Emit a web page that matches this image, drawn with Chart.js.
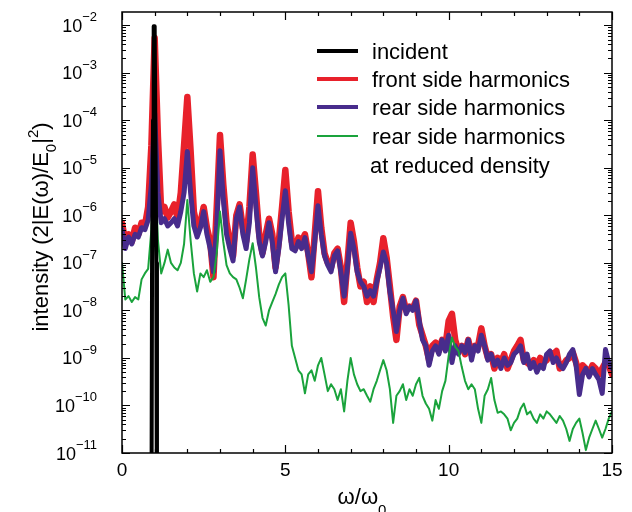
<!DOCTYPE html>
<html>
<head>
<meta charset="utf-8">
<script src="https://cdn.jsdelivr.net/npm/chart.js@4.4.1/dist/chart.umd.min.js"></script>
<style>
  html, body { margin: 0; padding: 0; background: #fff; }
  canvas { display: block; }
</style>
</head>
<body>
<canvas id="chart" width="632" height="512"></canvas>
<script>
// frequency grid (omega / omega_0)
const freq = [
  0.0, 0.1, 0.2, 0.3, 0.4, 0.5, 0.6, 0.7, 0.8, 0.9,
  1.0, 1.1, 1.2, 1.3, 1.4, 1.5, 1.6, 1.7, 1.8, 1.9,
  2.0, 2.1, 2.2, 2.3, 2.4, 2.5, 2.6, 2.7, 2.8, 2.9,
  3.0, 3.1, 3.2, 3.3, 3.4, 3.5, 3.6, 3.7, 3.8, 3.9,
  4.0, 4.1, 4.2, 4.3, 4.4, 4.5, 4.6, 4.7, 4.8, 4.9,
  5.0, 5.1, 5.2, 5.3, 5.4, 5.5, 5.6, 5.7, 5.8, 5.9,
  6.0, 6.1, 6.2, 6.3, 6.4, 6.5, 6.6, 6.7, 6.8, 6.9,
  7.0, 7.1, 7.2, 7.3, 7.4, 7.5, 7.6, 7.7, 7.8, 7.9,
  8.0, 8.1, 8.2, 8.3, 8.4, 8.5, 8.6, 8.7, 8.8, 8.9,
  9.0, 9.1, 9.2, 9.3, 9.4, 9.5, 9.6, 9.7, 9.8, 9.9,
  10.0, 10.1, 10.2, 10.3, 10.4, 10.5, 10.6, 10.7, 10.8, 10.9,
  11.0, 11.1, 11.2, 11.3, 11.4, 11.5, 11.6, 11.7, 11.8, 11.9,
  12.0, 12.1, 12.2, 12.3, 12.4, 12.5, 12.6, 12.7, 12.8, 12.9,
  13.0, 13.1, 13.2, 13.3, 13.4, 13.5, 13.6, 13.7, 13.8, 13.9,
  14.0, 14.1, 14.2, 14.3, 14.4, 14.5, 14.6, 14.7, 14.8, 14.9,
  15.0
];

const frontSide = [
  7e-7, 2.8e-7, 4e-7, 2.8e-7, 5.5e-7, 4e-7, 7e-7, 6e-7, 1.5e-6, 3e-5,
  5.4e-3, 4.5e-5, 1.2e-6, 1.5e-6, 9e-7, 1.2e-6, 1.7e-6, 9e-7, 3e-6, 3e-5,
  3.1e-4, 2.3e-5, 1.2e-6, 5.5e-7, 7e-7, 1.5e-6, 5.5e-7, 2.8e-7, 5e-8, 1.5e-6,
  4.9e-5, 4.5e-6, 7e-7, 2.8e-7, 1.4e-7, 1e-6, 1.7e-6, 5.5e-7, 2.8e-7, 1.5e-6,
  1.9e-5, 3e-6, 4e-7, 1.6e-7, 4e-7, 8.5e-7, 4e-7, 8e-8, 2.8e-7, 1.5e-6,
  9e-6, 1.2e-6, 2.8e-7, 2e-7, 3.4e-7, 2.8e-7, 4e-7, 1.6e-7, 5e-8, 4e-7,
  3.2e-6, 5.5e-7, 1.6e-7, 1e-7, 8e-8, 1.6e-7, 2e-7, 8e-8, 1.5e-8, 1e-7,
  7e-7, 2.8e-7, 8e-8, 3.2e-8, 4e-8, 1.5e-8, 3.2e-8, 1.5e-8, 4.5e-8, 1e-7,
  3.3e-7, 1.3e-7, 3.2e-8, 7.5e-9, 2.4e-9, 1.2e-8, 1.9e-8, 1e-8, 1.2e-8, 1.1e-8,
  1.6e-8, 5e-9, 3e-9, 1.8e-9, 9e-10, 1.8e-9, 2.1e-9, 1.4e-9, 2.4e-9, 1.8e-9,
  6e-9, 8.5e-9, 2.4e-9, 1.4e-9, 1.8e-9, 1.2e-9, 2.4e-9, 1.2e-9, 1.8e-9, 1.8e-9,
  4.2e-9, 1.8e-9, 1e-9, 1.2e-9, 6e-10, 1e-9, 8e-10, 1.2e-9, 6e-10, 9e-10,
  1.4e-9, 1.8e-9, 2.4e-9, 9e-10, 8e-10, 7e-10, 9e-10, 7e-10, 1e-9, 8e-10,
  9e-10, 1.3e-9, 1.2e-9, 1.4e-9, 6e-10, 7e-10, 9e-10, 1e-9, 1.3e-9, 8e-10,
  4.5e-10, 7e-10, 6e-10, 4.5e-10, 7e-10, 6e-10, 4.5e-10, 6e-10, 8e-10, 7e-10,
  4.5e-10
];

const rearSide = [
  5e-7, 2e-7, 3.5e-7, 2.5e-7, 4e-7, 3.5e-7, 5.5e-7, 5e-7, 8e-7, 4.5e-6,
  1.4e-4, 3e-6, 7e-7, 8.5e-7, 6e-7, 7e-7, 8.5e-7, 6e-7, 1.2e-6, 3e-6,
  2.2e-5, 3e-6, 6e-7, 3.5e-7, 5.5e-7, 1.2e-6, 4e-7, 2e-7, 6.5e-8, 6e-7,
  2.3e-5, 2.2e-6, 4e-7, 2e-7, 1.1e-7, 8.5e-7, 1.5e-6, 4e-7, 2e-7, 7e-7,
  1e-5, 1.5e-6, 2.8e-7, 1.4e-7, 2.8e-7, 7e-7, 2.8e-7, 6.5e-8, 2e-7, 8.5e-7,
  3.3e-6, 7e-7, 2e-7, 1.8e-7, 2.8e-7, 2e-7, 3.4e-7, 1.4e-7, 6.5e-8, 2.8e-7,
  1.6e-6, 4e-7, 1.4e-7, 9e-8, 6.5e-8, 1.4e-7, 1.8e-7, 6.5e-8, 2e-8, 8e-8,
  4.2e-7, 2e-7, 6.5e-8, 4e-8, 3.2e-8, 2e-8, 2.6e-8, 2e-8, 4e-8, 8e-8,
  1.7e-7, 1e-7, 2.5e-8, 1e-8, 3.6e-9, 1e-8, 1.8e-8, 8.5e-9, 1.2e-8, 1e-8,
  1.6e-8, 6e-9, 2.4e-9, 1.8e-9, 7e-10, 1.4e-9, 1.8e-9, 1.2e-9, 2.4e-9, 1.4e-9,
  3e-9, 8e-10, 1.8e-9, 1.2e-9, 1.8e-9, 1.3e-9, 2.4e-9, 9e-10, 1.8e-9, 1.4e-9,
  3e-9, 1.8e-9, 9e-10, 1.2e-9, 7e-10, 9e-10, 6e-10, 1e-9, 7e-10, 8e-10,
  1.2e-9, 1.4e-9, 1.8e-9, 8e-10, 1.2e-9, 6e-10, 8e-10, 5e-10, 7e-10, 6e-10,
  1.2e-9, 1.4e-9, 8e-10, 1e-9, 7e-10, 6e-10, 8e-10, 1.2e-9, 1.5e-9, 7e-10,
  1.7e-10, 4.5e-10, 6e-10, 4e-10, 6e-10, 4.5e-10, 3.5e-10, 1.8e-10, 1.5e-9, 8e-10,
  6e-10
];

const rearReduced = [
  1e-7, 1.7e-8, 2e-8, 1.5e-8, 1.9e-8, 1.7e-8, 4.5e-8, 6e-8, 7.5e-8, 5e-7,
  1.4e-5, 3e-7, 6e-8, 1e-7, 1.9e-7, 1e-7, 8e-8, 7e-8, 1e-7, 2.5e-7,
  2.1e-6, 3e-7, 6e-8, 2.5e-8, 6e-8, 5e-8, 7e-8, 4e-8, 5e-8, 1.6e-7,
  1.2e-6, 2.8e-7, 9e-8, 6e-8, 5e-8, 4.5e-8, 3e-8, 1.8e-8, 4.5e-8, 1.2e-7,
  2.6e-7, 8e-8, 1.9e-8, 7e-9, 4.8e-9, 1e-8, 1.5e-8, 2.2e-8, 3.5e-8, 5e-8,
  6e-8, 1.3e-8, 1.8e-9, 1e-9, 5.5e-10, 4.5e-10, 1.8e-10, 4.5e-10, 5.5e-10, 3.3e-10,
  7e-10, 1e-9, 4.5e-10, 2e-10, 2.8e-10, 2.2e-10, 1.3e-10, 2.2e-10, 7.5e-11, 3.3e-10,
  1e-9, 4.5e-10, 2.8e-10, 2e-10, 2.2e-10, 1.6e-10, 1.2e-10, 2.2e-10, 3.3e-10, 5.5e-10,
  9e-10, 5.5e-10, 2.2e-10, 4.3e-11, 1.6e-10, 2e-10, 2.8e-10, 1.3e-10, 2.2e-10, 1.6e-10,
  2.8e-10, 3.8e-10, 1.6e-10, 1.1e-10, 8.5e-11, 4.8e-11, 1.3e-10, 8.5e-11, 2e-10, 3.3e-10,
  1.1e-9, 2.7e-9, 1.7e-9, 1.4e-9, 6.5e-10, 3.3e-10, 2.2e-10, 2.8e-10, 2.2e-10, 8.5e-11,
  4.3e-11, 1.6e-10, 2.2e-10, 3.8e-10, 1.3e-10, 7e-11, 7.5e-11, 6.5e-11, 5.3e-11, 3e-11,
  4.3e-11, 5.3e-11, 8.5e-11, 1.1e-10, 6.5e-11, 7.5e-11, 5.3e-11, 4.3e-11, 6.5e-11, 5.3e-11,
  7.5e-11, 6.5e-11, 5.3e-11, 4.3e-11, 6e-11, 4.8e-11, 3.2e-11, 1.8e-11, 3.2e-11, 4.3e-11,
  5.3e-11, 2.6e-11, 1.15e-11, 2.1e-11, 3.2e-11, 4.8e-11, 3.2e-11, 2.1e-11, 3.2e-11, 5.3e-11,
  7.5e-11
];

// incident pulse: narrow spike at omega_0
const incidentFreq = [0.9, 0.92, 0.95, 0.97, 1.0, 1.02, 1.05, 1.07];
const incident = [1e-13, 1e-7, 1e-4, 9.5e-3, 9.5e-3, 1e-4, 1e-7, 1e-13];

const xTickLabels = ['0', '5', '10', '15'];
const yDecades = [-2, -3, -4, -5, -6, -7, -8, -9, -10, -11];

const legendItems = [
  { text: ['incident'], color: '#000000', width: 4 },
  { text: ['front side harmonics'], color: '#e8212b', width: 4 },
  { text: ['rear side harmonics'], color: '#482c8c', width: 4 },
  { text: ['rear side harmonics', 'at reduced density'], color: '#1aa33c', width: 2 }
];

const FONT = '"Liberation Sans", Arial, Helvetica, sans-serif';

function toPoints(xs, ys) {
  return xs.map((x, i) => ({ x: x, y: ys[i] }));
}

// draw text made of pieces with different sizes / offsets (sub & superscripts)
function drawRich(ctx, parts, x, y, align) {
  let total = 0;
  const widths = parts.map(p => {
    ctx.font = p[1] + 'px ' + FONT;
    const w = ctx.measureText(p[0]).width;
    total += w;
    return w;
  });
  let cx = align === 'center' ? x - total / 2 : (align === 'right' ? x - total : x);
  ctx.textAlign = 'left';
  ctx.textBaseline = 'alphabetic';
  parts.forEach((p, i) => {
    ctx.font = p[1] + 'px ' + FONT;
    ctx.fillText(p[0], cx, y + p[2]);
    cx += widths[i];
  });
}

const axesPlugin = {
  id: 'axesPlugin',
  afterDraw(chart) {
    const ctx = chart.ctx;
    const area = chart.chartArea;
    const xs = chart.scales.x;
    const ys = chart.scales.y;
    ctx.save();
    ctx.strokeStyle = '#000';
    ctx.fillStyle = '#000';

    // frame
    ctx.lineWidth = 1.5;
    ctx.strokeRect(area.left, area.top, area.right - area.left, area.bottom - area.top);

    // x ticks (bottom and top, pointing inward)
    ctx.lineWidth = 1.2;
    for (let v = 0; v <= 15; v++) {
      const px = Math.round(xs.getPixelForValue(v)) + 0.5;
      const len = v % 5 === 0 ? 8 : 4;
      ctx.beginPath();
      ctx.moveTo(px, area.bottom); ctx.lineTo(px, area.bottom - len);
      ctx.moveTo(px, area.top); ctx.lineTo(px, area.top + len);
      ctx.stroke();
    }

    // y ticks (left and right, pointing inward)
    yDecades.forEach(d => {
      for (let m = 1; m <= 9; m++) {
        const v = m * Math.pow(10, d);
        if (v > ys.max || v < ys.min) continue;
        const py = Math.round(ys.getPixelForValue(v)) + 0.5;
        const len = m === 1 ? 8 : 4;
        ctx.beginPath();
        ctx.moveTo(area.left, py); ctx.lineTo(area.left + len, py);
        ctx.moveTo(area.right, py); ctx.lineTo(area.right - len, py);
        ctx.stroke();
      }
    });

    // y tick labels 10^d
    yDecades.forEach(d => {
      const py = ys.getPixelForValue(Math.pow(10, d));
      drawRich(ctx, [['10', 18, 6.5], ['\u2212' + Math.abs(d), 13, -4]], 97, py, 'right');
    });

    // x tick labels
    ctx.font = '19px ' + FONT;
    ctx.textAlign = 'center';
    ctx.textBaseline = 'alphabetic';
    xTickLabels.forEach(t => {
      ctx.fillText(t, xs.getPixelForValue(Number(t)), 476);
    });

    // x title
    drawRich(ctx, [['\u03c9/\u03c9', 22, 0], ['0', 15, 11]], 362, 504, 'center');

    // y title (rotated)
    ctx.save();
    ctx.translate(48, 227);
    ctx.rotate(-Math.PI / 2);
    drawRich(ctx, [
      ['intensity (2|E(\u03c9)/E', 22, 0],
      ['0', 15, 8],
      ['|', 22, 0],
      ['2', 15, -10],
      [')', 22, 0]
    ], 0, 0, 'center');
    ctx.restore();

    // legend
    const rowY = [51, 79, 107, 136];
    legendItems.forEach((item, i) => {
      ctx.strokeStyle = item.color;
      ctx.lineWidth = item.width;
      ctx.beginPath();
      ctx.moveTo(317, rowY[i]);
      ctx.lineTo(358, rowY[i]);
      ctx.stroke();
      ctx.fillStyle = '#000';
      ctx.font = '22px ' + FONT;
      ctx.textAlign = 'left';
      ctx.textBaseline = 'alphabetic';
      item.text.forEach((line, j) => {
        ctx.fillText(line, j === 0 ? 372 : 370, rowY[i] + 8 + j * 29);
      });
    });

    ctx.restore();
  }
};

new Chart(document.getElementById('chart'), {
  type: 'line',
  data: {
    datasets: [
      {
        label: 'incident',
        data: toPoints(incidentFreq, incident),
        borderColor: '#000000',
        borderWidth: 4,
        order: 0,
        clip: 0
      },
      {
        label: 'rear side harmonics at reduced density',
        data: toPoints(freq, rearReduced),
        borderColor: '#1aa33c',
        borderWidth: 2,
        order: 1
      },
      {
        label: 'rear side harmonics',
        data: toPoints(freq, rearSide),
        borderColor: '#482c8c',
        borderWidth: 5,
        order: 2
      },
      {
        label: 'front side harmonics',
        data: toPoints(freq, frontSide),
        borderColor: '#e8212b',
        borderWidth: 6.5,
        order: 3
      }
    ]
  },
  options: {
    responsive: false,
    animation: false,
    devicePixelRatio: 1,
    layout: { padding: { top: 12, right: 20, left: 0, bottom: 0 } },
    elements: {
      point: { radius: 0 },
      line: { tension: 0, fill: false, borderJoinStyle: 'round', borderCapStyle: 'round' }
    },
    plugins: {
      legend: { display: false },
      tooltip: { enabled: false }
    },
    scales: {
      x: {
        type: 'linear',
        min: 0,
        max: 15,
        ticks: { display: false },
        grid: { display: false },
        border: { display: false },
        afterFit: s => { s.height = 59; }
      },
      y: {
        type: 'logarithmic',
        min: 1e-11,
        max: 1.9e-2,
        ticks: { display: false },
        grid: { display: false },
        border: { display: false },
        afterFit: s => { s.width = 122; }
      }
    }
  },
  plugins: [axesPlugin]
});
</script>
</body>
</html>
